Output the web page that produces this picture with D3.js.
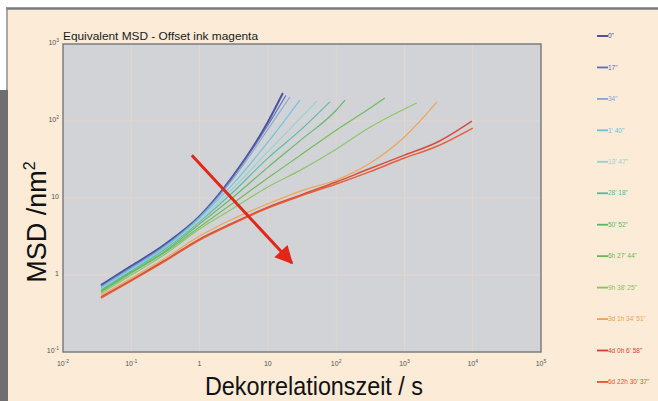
<!DOCTYPE html>
<html>
<head>
<meta charset="utf-8">
<script src="https://cdn.jsdelivr.net/npm/d3@7"></script>
<style>
  body { margin: 0; background: #fff; }
  svg { display: block; }
  text { font-family: "Liberation Sans", Arial, sans-serif; }
</style>
</head>
<body>
<div id="chart"></div>
<script>
// time grid (s) shared by every series, each series stops at its own end time
var tGrid = [0.036, 0.1, 0.3, 1, 3, 10, 30, 100, 300, 1000, 3000, 10000];

var legendLabels = ['0"', '17"', '34"', "1' 40\"", "13' 47\"", "28' 18\"", "50' 52\"",
    "6h 27' 44\"", "9h 38' 25\"", "3d 1h 34' 51\"", "4d 0h 6' 58\"", "6d 22h 30' 37\""];

var seriesColors = ["#3f4296", "#5a6fb8", "#7fa6d6", "#69c2dc", "#8fd3d3", "#56b89c",
    "#5bb565", "#66b94e", "#86c460", "#f0a247", "#d63f2c", "#e8532a"];

// end of each curve: time and MSD
var tEnd = [16.6, 18.4, 21, 29.5, 52, 81, 135, 518, 1520, 3000, 9700, 10000];
var msdEnd = [231, 215, 205, 187, 181, 177, 187, 199, 171, 177, 100, 81];

// MSD at the grid times below tEnd
var msdValues = [
    [0.74, 1.31, 2.45, 5.8, 18.7, 97],
    [0.72, 1.27, 2.38, 5.7, 18.2, 88],
    [0.70, 1.23, 2.31, 5.65, 17.1, 78],
    [0.68, 1.20, 2.24, 5.5, 14.8, 53],
    [0.66, 1.16, 2.18, 5.2, 13.0, 40, 109],
    [0.64, 1.13, 2.11, 4.9, 11.6, 33, 76],
    [0.62, 1.09, 1.99, 4.6, 10.0, 25, 56, 138],
    [0.60, 1.06, 1.93, 4.2, 8.4, 18.2, 36, 76, 143],
    [0.58, 1.00, 1.82, 3.95, 7.2, 13.9, 23, 43, 81, 143],
    [0.55, 0.91, 1.61, 3.2, 5.3, 8.4, 12.3, 17.1, 27.6, 62],
    [0.52, 0.86, 1.52, 2.93, 4.7, 7.6, 10.9, 16.1, 23.8, 36, 53],
    [0.50, 0.84, 1.48, 2.85, 4.6, 7.4, 10.6, 15.2, 21.7, 33, 47]
];

var xTicks = [1e-2, 1e-1, 1, 10, 1e2, 1e3, 1e4, 1e5];
var yTicks = [1e-1, 1, 10, 1e2, 1e3];

// arrow annotation (time, MSD)
var arrowFrom = [0.77, 36];
var arrowTo = [22.5, 1.43];

var W = 658, H = 401;
var plot = {left: 63, right: 541, top: 44, bottom: 352};

var svg = d3.select("#chart").append("svg")
    .attr("width", W).attr("height", H);

// outer frame
svg.append("rect").attr("x", 8).attr("y", 9).attr("width", W - 8).attr("height", H - 9)
    .attr("fill", "#fbebd7");
svg.append("line").attr("x1", 6).attr("x2", W).attr("y1", 8.5).attr("y2", 8.5)
    .attr("stroke", "#7a7a7a").attr("stroke-width", 2.5);
svg.append("line").attr("x1", 7).attr("x2", 7).attr("y1", 8).attr("y2", 90)
    .attr("stroke", "#8a8a8a").attr("stroke-width", 1.5);
svg.append("rect").attr("x", 0).attr("y", 90).attr("width", 8).attr("height", H - 90)
    .attr("fill", "#6f6f6f");

var x = d3.scaleLog().domain([1e-2, 1e5]).range([plot.left, plot.right]);
var y = d3.scaleLog().domain([1e-1, 1e3]).range([plot.bottom, plot.top]);

svg.append("rect")
    .attr("x", plot.left).attr("y", plot.top)
    .attr("width", plot.right - plot.left).attr("height", plot.bottom - plot.top)
    .attr("fill", "#d2d3d6");

// grid
svg.append("g").selectAll("line").data(xTicks.slice(1, -1)).enter().append("line")
    .attr("x1", function(d) { return x(d); }).attr("x2", function(d) { return x(d); })
    .attr("y1", plot.top).attr("y2", plot.bottom)
    .attr("stroke", "#e2d6d0").attr("stroke-width", 1);
svg.append("g").selectAll("line").data(yTicks.slice(1, -1)).enter().append("line")
    .attr("y1", function(d) { return y(d); }).attr("y2", function(d) { return y(d); })
    .attr("x1", plot.left).attr("x2", plot.right)
    .attr("stroke", "#e2d6d0").attr("stroke-width", 1);

svg.append("rect")
    .attr("x", plot.left).attr("y", plot.top)
    .attr("width", plot.right - plot.left).attr("height", plot.bottom - plot.top)
    .attr("fill", "none").attr("stroke", "#7d7d7d").attr("stroke-width", 1.5);

function powLabel(sel, d) {
    var e = Math.round(Math.log10(d));
    if (e == 0) { sel.text("1"); return; }
    if (e == 1) { sel.text("10"); return; }
    sel.text("10");
    sel.append("tspan").attr("dy", -3).attr("font-size", 5).text(e);
}

// tick labels
svg.append("g").selectAll("text").data(xTicks).enter().append("text")
    .attr("x", function(d) { return x(d); }).attr("y", 366)
    .attr("text-anchor", "middle").attr("font-size", 7).attr("fill", "#555")
    .each(function(d) { powLabel(d3.select(this), d); });
svg.append("g").selectAll("text").data(yTicks).enter().append("text")
    .attr("x", plot.left - 4).attr("y", function(d) { return y(d) + 1; })
    .attr("text-anchor", "end").attr("font-size", 7).attr("fill", "#555")
    .each(function(d) { powLabel(d3.select(this), d); });

// title
svg.append("text").attr("x", plot.left).attr("y", 40)
    .attr("font-size", 11).attr("fill", "#1a1a1a")
    .attr("textLength", 195).attr("lengthAdjust", "spacingAndGlyphs")
    .text("Equivalent MSD - Offset ink magenta");

// curves
var line = d3.line()
    .x(function(d) { return x(d[0]); })
    .y(function(d) { return y(d[1]); })
    .curve(d3.curveMonotoneX);

var series = msdValues.map(function(vals, i) {
    var pts = vals.map(function(v, j) { return [tGrid[j], v]; });
    pts.push([tEnd[i], msdEnd[i]]);
    return pts;
});

var curves = svg.append("g");
series.forEach(function(pts, i) {
    var w = (i == 0) ? 2 : (i >= 10 ? 1.5 : 1.2);
    curves.append("path").datum(pts)
        .attr("d", line)
        .attr("fill", "none")
        .attr("stroke", seriesColors[i])
        .attr("stroke-width", w)
        .attr("stroke-opacity", 0.9);
});

// arrow
svg.append("defs").append("marker")
    .attr("id", "head").attr("viewBox", "0 0 10 10")
    .attr("refX", 9).attr("refY", 5)
    .attr("markerWidth", 7).attr("markerHeight", 6)
    .attr("orient", "auto")
    .append("path").attr("d", "M0,0 L10,5 L0,10 Z").attr("fill", "#e2261a");
svg.append("line")
    .attr("x1", x(arrowFrom[0])).attr("y1", y(arrowFrom[1]))
    .attr("x2", x(arrowTo[0])).attr("y2", y(arrowTo[1]))
    .attr("stroke", "#e2261a").attr("stroke-width", 3)
    .attr("marker-end", "url(#head)");

// axis titles
svg.append("text")
    .attr("x", (plot.left + plot.right) / 2 + 12).attr("y", 395)
    .attr("text-anchor", "middle").attr("font-size", 26).attr("fill", "#111")
    .attr("textLength", 218).attr("lengthAdjust", "spacingAndGlyphs")
    .text("Dekorrelationszeit / s");

var yl = svg.append("text")
    .attr("transform", "translate(46,222) rotate(-90)")
    .attr("text-anchor", "middle").attr("font-size", 27).attr("fill", "#111");
yl.append("tspan").text("MSD /nm");
yl.append("tspan").attr("dy", -11).attr("font-size", 16).text("2");

// legend
var leg = svg.append("g").selectAll("g").data(legendLabels).enter().append("g")
    .attr("transform", function(d, i) { return "translate(597," + (36 + i * 31.45) + ")"; });
leg.append("line").attr("x1", 0).attr("x2", 11).attr("y1", 0).attr("y2", 0)
    .attr("stroke", function(d, i) { return seriesColors[i]; }).attr("stroke-width", 1.8);
leg.append("text").attr("x", 11).attr("y", 2.2)
    .attr("font-size", 6.5).attr("fill", function(d, i) { return seriesColors[i]; })
    .text(function(d) { return d; });
</script>
</body>
</html>
